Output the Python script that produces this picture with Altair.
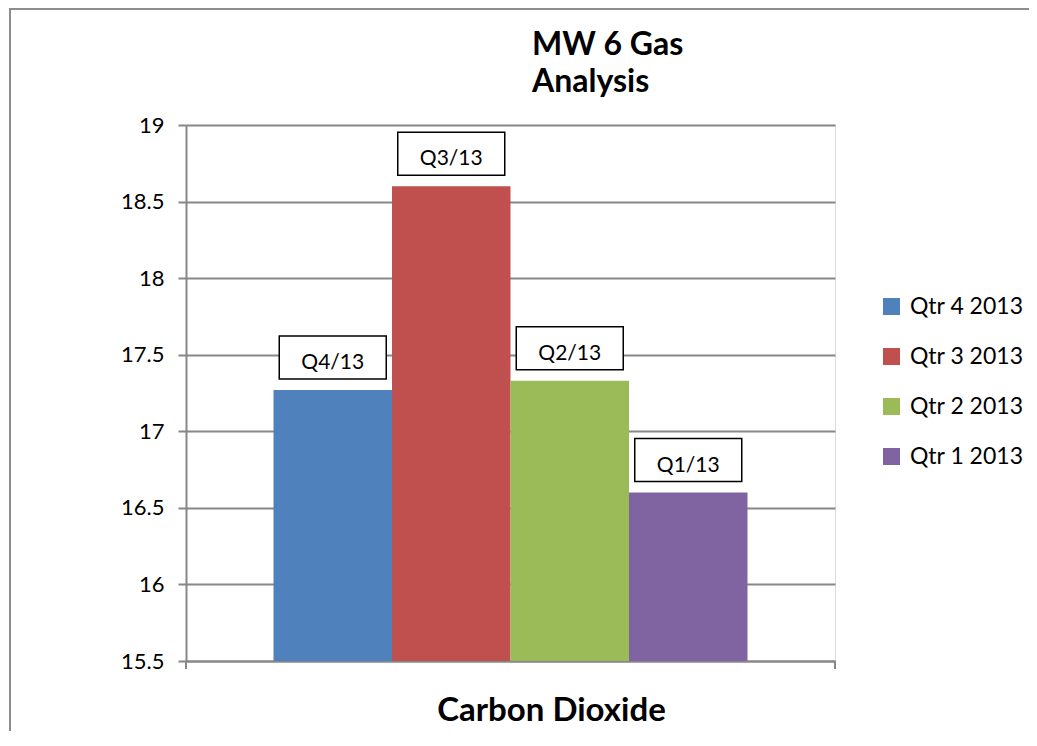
import altair as alt
import pandas as pd

# ---- data ----
category = "Carbon Dioxide"
series = ["Qtr 4 2013", "Qtr 3 2013", "Qtr 2 2013", "Qtr 1 2013"]
bar_labels = ["Q4/13", "Q3/13", "Q2/13", "Q1/13"]
values = [17.27, 18.6, 17.33, 16.6]
colors = ["#4F81BD", "#C0504D", "#9BBB59", "#8064A2"]
y_ticks = [15.5, 16, 16.5, 17, 17.5, 18, 18.5, 19]
title_lines = ["MW 6 Gas", "Analysis"]

df = pd.DataFrame({
    "cat": [category] * len(series),
    "series": series,
    "label": bar_labels,
    "value": values,
})

W, H = 649, 536
PAD_L, PAD_T, PAD_R, PAD_B = 178, 117, 194, 70
FONT = "Lato"
GRAY = "#878787"

base = alt.Chart(df)

x = alt.X(
    "cat:N",
    scale=alt.Scale(paddingInner=0, paddingOuter=0.1846),
    axis=alt.Axis(
        labels=False, ticks=False, domain=True, domainColor=GRAY, domainWidth=2,
        title=category, titleFont=FONT, titleFontSize=33, titleFontWeight="bold",
        titleColor="#000000", titleX=365, titleY=59, titleBaseline="alphabetic",
        titleAlign="center", grid=False,
    ),
)
xo = alt.XOffset("series:N", sort=series, scale=alt.Scale(paddingInner=0, paddingOuter=0))
y = alt.Y(
    "value:Q",
    scale=alt.Scale(domain=[15.5, 19], nice=False, zero=False),
    axis=alt.Axis(
        values=y_ticks, format="~g", title=None,
        grid=True, gridColor=GRAY, gridWidth=2,
        domainColor=GRAY, domainWidth=2,
        tickColor=GRAY, tickWidth=2, tickSize=8,
        labelFont=FONT, labelFontSize=22, labelColor="#000000", labelPadding=14,
    ),
)
color = alt.Color(
    "series:N", sort=series,
    scale=alt.Scale(domain=series, range=colors),
    legend=alt.Legend(
        orient="none", legendX=694, legendY=170, title=None,
        symbolType="square", symbolSize=289, symbolStrokeWidth=0,
        labelFont=FONT, labelFontSize=23, labelColor="#000000", labelOffset=7,
        rowPadding=26, padding=0,
    ),
)

bars = base.mark_bar().encode(
    x=x, xOffset=xo, y=y, y2=alt.datum(15.5), color=color,
)

box_path = "M-1,-0.402L1,-0.402L1,0.402L-1,0.402Z"
boxes = base.mark_point(
    shape=box_path, size=107 * 107, filled=True, fill="white", stroke="black",
    strokeWidth=1.5, opacity=1, yOffset=-32.5,
).encode(x=x, xOffset=xo, y=y)

texts = base.mark_text(
    font=FONT, fontSize=21, color="#000000", baseline="alphabetic", dy=-21,
).encode(x=x, xOffset=xo, y=y, text="label:N")

one = alt.Chart(pd.DataFrame({"a": [0]}))
tick_l = one.mark_rule(color=GRAY, strokeWidth=2).encode(
    x=alt.value(0), y=alt.value(H), y2=alt.value(H + 8))
tick_r = one.mark_rule(color=GRAY, strokeWidth=2).encode(
    x=alt.value(W), y=alt.value(H), y2=alt.value(H + 8))
# outer chart frame: left and top edges as thin filled strips
frame_left = one.mark_rect(color="#8d8d8d", strokeWidth=0).encode(
    x=alt.value(-177), x2=alt.value(-175), y=alt.value(-117), y2=alt.value(H + PAD_B))
frame_top = one.mark_rect(color="#8d8d8d", strokeWidth=0).encode(
    x=alt.value(-177), x2=alt.value(W + PAD_R), y=alt.value(-117), y2=alt.value(-115))

title_df = pd.DataFrame({"t": title_lines, "line": [0, 1]})
title1 = alt.Chart(title_df[title_df["line"] == 0]).mark_text(
    font=FONT, fontSize=32, fontWeight="bold", color="#000000",
    align="left", baseline="alphabetic",
).encode(x=alt.value(346), y=alt.value(-70), text="t:N")
title2 = alt.Chart(title_df[title_df["line"] == 1]).mark_text(
    font=FONT, fontSize=32, fontWeight="bold", color="#000000",
    align="left", baseline="alphabetic",
).encode(x=alt.value(346), y=alt.value(-33), text="t:N")

chart = alt.layer(
    frame_left, frame_top, bars, boxes, texts, tick_l, tick_r, title1, title2
).properties(
    width=W, height=H,
    autosize=alt.AutoSizeParams(type="none"),
    padding={"left": PAD_L, "top": PAD_T, "right": PAD_R, "bottom": PAD_B},
).configure_view(stroke=None).configure(background="white")

chart.save("out.html", embed_options={"renderer": "svg", "actions": False})
